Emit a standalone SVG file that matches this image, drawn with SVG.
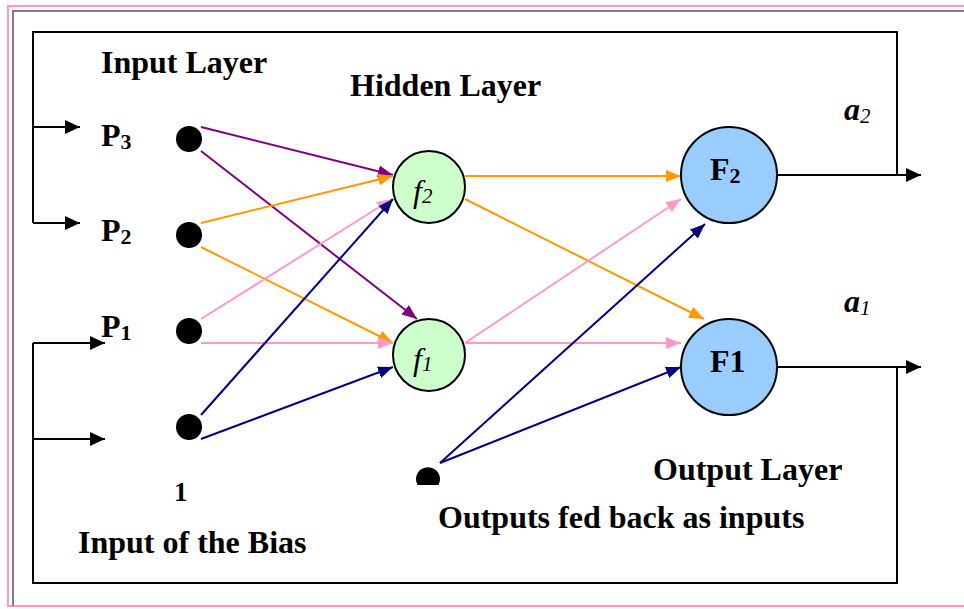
<svg xmlns="http://www.w3.org/2000/svg" width="964" height="609" viewBox="0 0 964 609" font-family="'Liberation Serif', 'Times New Roman', Times, serif">
  <style>
    text { font-family: 'Liberation Serif', 'Times New Roman', Times, serif; fill: #000; }
    .lbl { font-size: 32px; font-weight: bold; }
    .sub { font-size: 22px; }
    .frame { fill: none; stroke: #000; stroke-width: 2; }
    .dot { fill: #000; }
    .hid { fill: #CCFFCC; stroke: #000; stroke-width: 2; }
    .out { fill: #99CCFF; stroke: #000; stroke-width: 2; }
    .e { fill: none; stroke-width: 2; }
    .purple { stroke: #800080; }
    .orange { stroke: #FF9900; }
    .pink { stroke: #FF99CC; }
    .navy { stroke: #000080; }
  </style>
  <defs>
    <marker id="ah-black" markerUnits="userSpaceOnUse" markerWidth="16" markerHeight="14" refX="15" refY="7" orient="auto">
      <path d="M0,0 L15,7 L0,14 Z" fill="#000"/>
    </marker>
    <marker id="ah-purple" markerUnits="userSpaceOnUse" markerWidth="16" markerHeight="12" refX="15" refY="6" orient="auto">
      <path d="M0,0 L15,6 L0,12 Z" fill="#800080"/>
    </marker>
    <marker id="ah-orange" markerUnits="userSpaceOnUse" markerWidth="16" markerHeight="12" refX="15" refY="6" orient="auto">
      <path d="M0,0 L15,6 L0,12 Z" fill="#FF9900"/>
    </marker>
    <marker id="ah-pink" markerUnits="userSpaceOnUse" markerWidth="16" markerHeight="12" refX="15" refY="6" orient="auto">
      <path d="M0,0 L15,6 L0,12 Z" fill="#FF99CC"/>
    </marker>
    <marker id="ah-navy" markerUnits="userSpaceOnUse" markerWidth="16" markerHeight="12" refX="15" refY="6" orient="auto">
      <path d="M0,0 L15,6 L0,12 Z" fill="#000080"/>
    </marker>
  </defs>

  <rect width="964" height="609" fill="#fff"/>

  <!-- page border -->
  <path d="M964,6 H8 V606 H964" fill="none" stroke="#FF99CC" stroke-width="2"/>
  <path d="M964,11 H13 V606" fill="none" stroke="#808080" stroke-width="2"/>

  <!-- feedback frame and input/output leads -->
  <g id="frame">
    <path class="frame" d="M33,223 V32 H897 V175"/>
    <path class="frame" d="M33,343 V583 H897 V367"/>
    <line class="frame" x1="33" y1="127" x2="80" y2="127" marker-end="url(#ah-black)"/>
    <line class="frame" x1="33" y1="223" x2="80" y2="223" marker-end="url(#ah-black)"/>
    <line class="frame" x1="33" y1="343" x2="105" y2="343" marker-end="url(#ah-black)"/>
    <line class="frame" x1="33" y1="439" x2="105" y2="439" marker-end="url(#ah-black)"/>
    <line class="frame" x1="777" y1="175" x2="921" y2="175" marker-end="url(#ah-black)"/>
    <line class="frame" x1="777" y1="367" x2="921" y2="367" marker-end="url(#ah-black)"/>
  </g>

  <!-- weighted connections -->
  <g id="connectors">
    <line class="e purple" x1="201" y1="127" x2="393" y2="175" marker-end="url(#ah-purple)"/>
    <line class="e purple" x1="201" y1="151" x2="417" y2="319" marker-end="url(#ah-purple)"/>
    <line class="e orange" x1="201" y1="223" x2="393" y2="176" marker-end="url(#ah-orange)"/>
    <line class="e orange" x1="201" y1="247" x2="393" y2="343" marker-end="url(#ah-orange)"/>
    <line class="e pink" x1="201" y1="319" x2="392" y2="199" marker-end="url(#ah-pink)"/>
    <line class="e pink" x1="201" y1="343" x2="393" y2="343" marker-end="url(#ah-pink)"/>
    <line class="e navy" x1="201" y1="415" x2="393" y2="199" marker-end="url(#ah-navy)"/>
    <line class="e navy" x1="201" y1="439" x2="393" y2="367" marker-end="url(#ah-navy)"/>

    <line class="e orange" x1="465" y1="176" x2="681" y2="176" marker-end="url(#ah-orange)"/>
    <line class="e orange" x1="465" y1="199" x2="704" y2="319" marker-end="url(#ah-orange)"/>
    <line class="e pink" x1="465" y1="343" x2="681" y2="199" marker-end="url(#ah-pink)"/>
    <line class="e pink" x1="465" y1="343" x2="681" y2="343" marker-end="url(#ah-pink)"/>
    <line class="e navy" x1="440" y1="463" x2="705" y2="224" marker-end="url(#ah-navy)"/>
    <line class="e navy" x1="440" y1="463" x2="681" y2="367" marker-end="url(#ah-navy)"/>
  </g>

  <!-- input nodes -->
  <g id="p3"><circle class="dot" cx="189" cy="139" r="13"/><text class="lbl" x="101" y="146">P<tspan class="sub" dy="3">3</tspan></text></g>
  <g id="p2"><circle class="dot" cx="189" cy="235" r="13"/><text class="lbl" x="101" y="241">P<tspan class="sub" dy="3">2</tspan></text></g>
  <g id="p1"><circle class="dot" cx="189" cy="331" r="13"/><text class="lbl" x="101" y="337">P<tspan class="sub" dy="3">1</tspan></text></g>
  <g id="bias"><circle class="dot" cx="189" cy="427" r="13"/><text class="lbl" x="174" y="501" style="font-size:27px">1</text></g>
  <g id="feedback"><path class="dot" d="M417.5,485 A12,12 0 1 1 438.5,485 Z"/></g>

  <!-- hidden nodes -->
  <g id="f2"><circle class="hid" cx="429" cy="187" r="36"/><text x="413" y="202" style="font-size:32px;font-style:italic">f<tspan style="font-size:21px" dy="1">2</tspan></text></g>
  <g id="f1"><circle class="hid" cx="429" cy="355" r="36"/><text x="413" y="370" style="font-size:32px;font-style:italic">f<tspan style="font-size:21px" dy="1">1</tspan></text></g>

  <!-- output nodes -->
  <g id="F2"><circle class="out" cx="729" cy="175" r="48"/><text class="lbl" x="710" y="180">F<tspan class="sub" dy="3">2</tspan></text></g>
  <g id="F1"><circle class="out" cx="729" cy="367" r="48"/><text class="lbl" x="710" y="372">F1</text></g>

  <!-- output labels -->
  <text class="lbl" x="844" y="120" style="font-style:italic">a<tspan style="font-size:21px;font-weight:normal" dy="3">2</tspan></text>
  <text class="lbl" x="844" y="312" style="font-style:italic">a<tspan style="font-size:21px;font-weight:normal" dy="3">1</tspan></text>

  <!-- captions -->
  <text class="lbl" x="101" y="73">Input Layer</text>
  <text class="lbl" x="350" y="96">Hidden Layer</text>
  <text class="lbl" x="653" y="480">Output Layer</text>
  <text class="lbl" x="438" y="528">Outputs fed back as inputs</text>
  <text class="lbl" x="78" y="553">Input of the Bias</text>
</svg>
